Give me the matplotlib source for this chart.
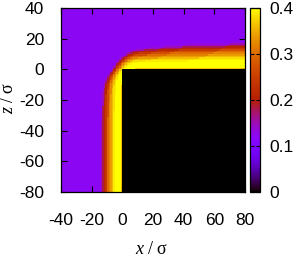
import numpy as np
import matplotlib
matplotlib.use("Agg")
import matplotlib.pyplot as plt

plt.rcParams['font.family'] = ['Liberation Sans', 'DejaVu Sans']
plt.rcParams['axes.unicode_minus'] = False
plt.rcParams['mathtext.fontset'] = 'custom'
plt.rcParams['mathtext.rm'] = 'Liberation Serif'
plt.rcParams['mathtext.it'] = 'Liberation Serif:italic'

# density profile above the top face of the wall (far from the corner),
# one value per 1 sigma slab
profile_rho = [0.36, 0.40, 0.41, 0.41, 0.40, 0.40, 0.39, 0.38, 0.36, 0.34,
               0.32, 0.30, 0.27, 0.24, 0.21, 0.18, 0.15, 0.13]
rho_bulk = 0.12
rho_wall = 0.0
side_stretch = 1.25   # layer on the side face is thinner than on the top face
corner_radius = 12.0  # rounding of the layer around the corner
corner_boost = 0.5    # layer gets thinner close to the corner
top_decay = 25.0
side_decay = 8.0

x_edges = np.arange(-40, 81, 1)
z_edges = np.arange(-80, 41, 1)
xticks = [-40, -20, 0, 20, 40, 60, 80]
zticks = [-80, -60, -40, -20, 0, 20, 40]
cticks = [0, 0.1, 0.2, 0.3, 0.4]
clabels = ['0', '0.1', '0.2', '0.3', '0.4']

xc = 0.5 * (x_edges[1:] + x_edges[:-1])
zc = 0.5 * (z_edges[1:] + z_edges[:-1])
X, Z = np.meshgrid(xc, zc)
u = -X * side_stretch
v = Z
R = corner_radius
# distance to a wall whose corner is rounded with radius R
dist = np.where(u <= -R, v, np.where(v <= -R, u,
                np.sqrt((u + R) ** 2 + (v + R) ** 2) - R))
near = np.sqrt((np.clip(X, 0, None) / top_decay) ** 2
               + (np.clip(-Z, 0, None) / side_decay) ** 2)
dist = np.clip(dist * (1 + corner_boost * np.exp(-near)), 0, None)

idx = np.floor(dist).astype(int)
lookup = np.array(profile_rho + [rho_bulk])
rho = lookup[np.clip(idx, 0, len(profile_rho))]
rho[(X > 0) & (Z < 0)] = rho_wall

fig = plt.figure(figsize=(3.0, 2.58), dpi=100)
ax = fig.add_axes([61 / 300, 66 / 258, 184 / 300, 184 / 258])
cax = fig.add_axes([249.5 / 300, 66 / 258, 10 / 300, 184 / 258])

im = ax.pcolormesh(x_edges, z_edges, rho, cmap='gnuplot', vmin=0, vmax=0.4,
                   shading='flat', rasterized=True)
ax.set_xlim(-40, 80)
ax.set_ylim(-80, 40)
ax.set_xticks(xticks)
ax.set_yticks(zticks)
ax.tick_params(direction='in', top=True, right=True, length=4, width=0.8,
               labelsize=12.5)
ax.tick_params(axis='y', pad=12)
ax.tick_params(axis='x', pad=15)
for s in ax.spines.values():
    s.set_linewidth(0.9)

cb = fig.colorbar(im, cax=cax)
cb.set_ticks(cticks)
cb.ax.set_yticklabels(clabels)
cax.tick_params(direction='in', left=True, right=True, length=3, width=0.8,
                labelsize=12.5, pad=7)
cb.outline.set_linewidth(0.9)

fig.text(152 / 300, 0.0, r'$x\ /\ \mathrm{\sigma}$', fontsize=13,
         ha='center', va='bottom')
fig.text(9 / 300, 1 - 98 / 258, r'$z\ /\ \mathrm{\sigma}$', fontsize=13,
         ha='center', va='center', rotation=90)

fig.savefig('out.png', dpi=100)
